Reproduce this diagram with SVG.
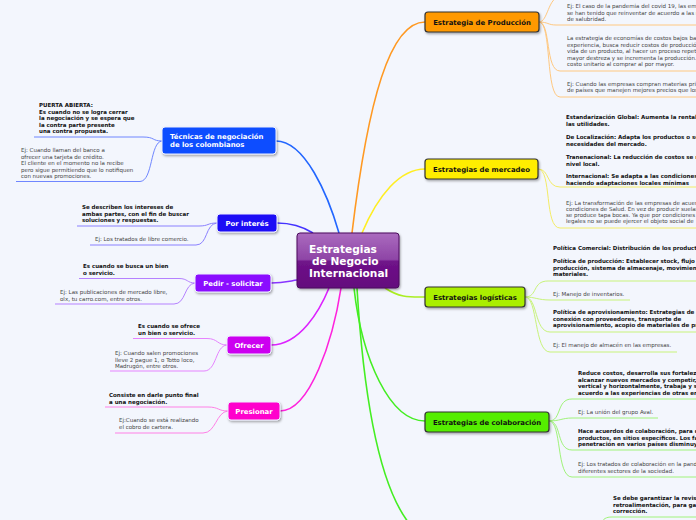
<svg xmlns="http://www.w3.org/2000/svg" width="696" height="520" viewBox="0 0 696 520">
<defs>
<linearGradient id="gc" x1="0" y1="0" x2="0" y2="1">
<stop offset="0" stop-color="#ab6bbf"/>
<stop offset="0.48" stop-color="#8e45a6"/>
<stop offset="0.52" stop-color="#6f1389"/>
<stop offset="1" stop-color="#64077d"/>
</linearGradient>
<filter id="sh" x="-10%" y="-20%" width="130%" height="150%">
<feDropShadow dx="1" dy="1.5" stdDeviation="0.8" flood-color="#000" flood-opacity="0.35"/>
</filter>
</defs>
<style>
.t{font-family:"DejaVu Sans",Verdana,sans-serif;font-size:5.5px;fill:#444}
.b{font-family:"DejaVu Sans",Verdana,sans-serif;font-size:5.5px;font-weight:bold;fill:#111}
.nl{font-family:"DejaVu Sans",Verdana,sans-serif;font-size:6.9px;font-weight:bold;fill:#fff}
.nr{font-family:"DejaVu Sans",Verdana,sans-serif;font-size:6.9px;font-weight:bold;fill:#111}
.nc{font-family:"DejaVu Sans",Verdana,sans-serif;font-size:10.6px;font-weight:bold;fill:#fff}
.L{stroke:#eef0ff;stroke-width:1;filter:url(#sh)}
.R{stroke:#333;stroke-width:1.2;filter:url(#sh)}
#conn path{fill:none}
.cm{stroke-width:1.6}
.cs{stroke-width:1}
</style>
<rect width="696" height="520" fill="#f3f6fd"/>
<g id="conn">
<path class="cm" stroke="#2266ff" d="M276,141 C305,141 328,195 339,233"/>
<path class="cm" stroke="#4433ff" d="M277,223 C295,223 305,228 313,233"/>
<path class="cm" stroke="#8833ff" d="M271,283 C283,283 290,281 297,280"/>
<path class="cm" stroke="#dd22ff" d="M271,345 C300,345 320,310 329,288"/>
<path class="cm" stroke="#ff22dd" d="M280,411 C310,411 333,340 341,288"/>
<path class="cm" stroke="#ff9922" stroke-width="2.2" d="M352,233 C368,100 390,22 425,22"/>
<path class="cm" stroke="#ffee22" d="M362,233 C378,195 400,169 425,169"/>
<path class="cm" stroke="#aaee22" d="M385,288 C400,298 410,297 425,297"/>
<path class="cm" stroke="#44ee22" d="M354,288 C362,360 390,421 425,421"/>
<path class="cm" stroke="#44ee22" d="M357,288 C365,420 385,500 415,530"/>
<!-- left children -->
<path class="cs" stroke="#6f86ff" d="M162,141 C152,141 155,137 143,137 H34"/>
<path class="cs" stroke="#6f86ff" d="M162,141 C150,142 153,181 140,181.5 H16"/>
<path class="cs" stroke="#8a80ff" d="M217,223 C207,223 209,226 199,226 H77"/>
<path class="cs" stroke="#8a80ff" d="M217,223 C205,224 208,245 196,245 H90"/>
<path class="cs" stroke="#b581ff" d="M195,283 C187,283 188,278.5 179,278.5 H79"/>
<path class="cs" stroke="#b581ff" d="M195,283 C184,284 186,304 174,304 H55"/>
<path class="cs" stroke="#e683ff" d="M227,345 C217,345 218,338.5 207,338.5 H133"/>
<path class="cs" stroke="#e683ff" d="M227,345 C215,346 217,371 204,371 H110"/>
<path class="cs" stroke="#ff80e6" d="M228,411 C218,411 219,407 208,407 H105"/>
<path class="cs" stroke="#ff80e6" d="M228,411 C216,412 216,433 203,433 H115"/>
<!-- right children -->
<path class="cs" stroke="#ffc880" d="M539,22 C548,22 548,-3 560,-3 H696"/>
<path class="cs" stroke="#ffc880" d="M539,22 C548,22 548,25 556,25 H696"/>
<path class="cs" stroke="#ffc880" d="M539,22 C551,22 545,71 560,71 H696"/>
<path class="cs" stroke="#ffc880" d="M539,22 C552,22 545,97 560,97 H696"/>
<path class="cs" stroke="#f3ec66" d="M538,169 C550,169 546,187 560,187 H696"/>
<path class="cs" stroke="#f3ec66" d="M538,169 C552,169 544,228 560,228 H696"/>
<path class="cs" stroke="#c8f37a" d="M525,297 C538,297 532,281 548,281 H696"/>
<path class="cs" stroke="#c8f37a" d="M525,297 C535,297 538,300 550,300 H630"/>
<path class="cs" stroke="#c8f37a" d="M525,297 C538,297 534,332 550,332 H696"/>
<path class="cs" stroke="#c8f37a" d="M525,297 C538,297 534,352 550,352 H677"/>
<path class="cs" stroke="#a0f37a" d="M549,421 C562,421 556,399 572,399 H696"/>
<path class="cs" stroke="#a0f37a" d="M549,421 C560,421 562,418 572,418 H658"/>
<path class="cs" stroke="#a0f37a" d="M549,421 C562,421 556,450 572,450 H696"/>
<path class="cs" stroke="#a0f37a" d="M549,421 C562,421 556,477 572,477 H696"/>
<path class="cs" stroke="#a0f37a" d="M600,540 C600,525 600,517 612,517 H696"/>
</g>
<g id="central">
<rect x="297" y="233" width="102" height="55" rx="3" fill="url(#gc)" stroke="#4a0a5c" stroke-width="1" filter="url(#sh)"/>
<text class="nc" x="309" y="253">Estrategias</text>
<text class="nc" x="312" y="265">de Negocio</text>
<text class="nc" x="309" y="277">Internacional</text>
</g>
<g id="tecnicas">
<rect class="L" x="162" y="127" width="114" height="27" rx="3" fill="#0b4dff"/>
<text class="nl" x="170" y="139">Técnicas de negociación</text>
<text class="nl" x="170" y="147">de los colombianos</text>
<text class="b" x="39" y="107">PUERTA ABIERTA:</text>
<text class="b" x="39" y="113.5">Es cuando no se logra cerrar</text>
<text class="b" x="39" y="120">la negociación y se espera que</text>
<text class="b" x="39" y="126.5">la contra parte presente</text>
<text class="b" x="39" y="133">una contra propuesta.</text>
<text class="t" x="21" y="152">Ej: Cuando llaman del banco a</text>
<text class="t" x="21" y="158.5">ofrecer una tarjeta de crédito.</text>
<text class="t" x="21" y="165">El cliente en el momento no la recibe</text>
<text class="t" x="21" y="171.5">pero sigue permitiendo que lo notifiquen</text>
<text class="t" x="21" y="178">con nuevas promociones.</text>
</g>
<g id="interes">
<rect class="L" x="217" y="214" width="60" height="18" rx="3" fill="#1f08f5"/>
<text class="nl" x="247" y="225.5" text-anchor="middle">Por interés</text>
<text class="b" x="82" y="209">Se describen los intereses de</text>
<text class="b" x="82" y="215.5">ambas partes, con el fin de buscar</text>
<text class="b" x="82" y="222">soluciones y respuestas.</text>
<text class="t" x="95" y="241">Ej: Los tratados de libre comercio.</text>
</g>
<g id="pedir">
<rect class="L" x="195" y="274" width="76" height="18" rx="3" fill="#8a0cff"/>
<text class="nl" x="233" y="285.5" text-anchor="middle">Pedir - solicitar</text>
<text class="b" x="83" y="268">Es cuando se busca un bien</text>
<text class="b" x="83" y="274.5">o servicio.</text>
<text class="t" x="60" y="294">Ej: Las publicaciones de mercado libre,</text>
<text class="t" x="60" y="300.5">olx, tu carro.com, entre otros.</text>
</g>
<g id="ofrecer">
<rect class="L" x="227" y="336" width="44" height="18" rx="3" fill="#cc00f0"/>
<text class="nl" x="249" y="347.5" text-anchor="middle">Ofrecer</text>
<text class="b" x="138" y="328">Es cuando se ofrece</text>
<text class="b" x="138" y="334.5">un bien o servicio.</text>
<text class="t" x="115" y="355">Ej: Cuando salen promociones</text>
<text class="t" x="115" y="361.5">lleve 2 pague 1, o Totto loco,</text>
<text class="t" x="115" y="368">Madrugón, entre otros.</text>
</g>
<g id="presionar">
<rect class="L" x="228" y="402" width="52" height="18" rx="3" fill="#ff00cc"/>
<text class="nl" x="254" y="413.5" text-anchor="middle">Presionar</text>
<text class="b" x="109" y="397">Consiste en darle punto final</text>
<text class="b" x="109" y="403.5">a una negociación.</text>
<text class="t" x="119" y="422">Ej:Cuando se está realizando</text>
<text class="t" x="119" y="428.5">el cobro de cartera.</text>
</g>
<g id="produccion">
<rect class="R" x="425" y="12" width="114" height="20" rx="3" fill="#ff9900"/>
<text class="nr" x="482" y="24.5" text-anchor="middle">Estrategia de Producción</text>
<text class="t" x="567" y="8">Ej: El caso de la pandemia del covid 19, las empresas</text>
<text class="t" x="567" y="14.5">se han tenido que reinventar de acuerdo a las normas</text>
<text class="t" x="567" y="21">de salubridad.</text>
<text class="t" x="567" y="40">La estrategia de economías de costos bajos basada en la</text>
<text class="t" x="567" y="46.5">experiencia, busca reducir costos de producción en la</text>
<text class="t" x="567" y="53">vida de un producto, al hacer un proceso repetitivo se</text>
<text class="t" x="567" y="59.5">mayor destreza y se incrementa la producción. Reduce el</text>
<text class="t" x="567" y="66">costo unitario al comprar al por mayor.</text>
<text class="t" x="567" y="85.5">Ej: Cuando las empresas compran materias primas</text>
<text class="t" x="567" y="92">de países que manejen mejores precios que los</text>
</g>
<g id="mercadeo">
<rect class="R" x="425" y="159" width="113" height="20" rx="3" fill="#ffee00"/>
<text class="nr" x="481.5" y="171.5" text-anchor="middle">Estrategias de mercadeo</text>
<text class="b" x="566" y="119">Estandarización Global: Aumenta la rentabilidad</text>
<text class="b" x="566" y="125.5">las utilidades.</text>
<text class="b" x="566" y="139">De Localización: Adapta los productos o servicios</text>
<text class="b" x="566" y="145.5">necesidades del mercado.</text>
<text class="b" x="566" y="159">Tranenacional: La reducción de costos se maneja</text>
<text class="b" x="566" y="165.5">nivel local.</text>
<text class="b" x="566" y="178">Internacional: Se adapta a las condiciones</text>
<text class="b" x="566" y="184.5">haciendo adaptaciones locales mínimas</text>
<text class="t" x="566" y="204.5">Ej: La transformación de las empresas de acuerdo</text>
<text class="t" x="566" y="210.5">condiciones de Salud.  En vez de producir suelas</text>
<text class="t" x="566" y="216.5">se produce tapa bocas. Ya que por condiciones</text>
<text class="t" x="566" y="222.5">legales no se puede ejercer el objeto social de</text>
</g>
<g id="logisticas">
<rect class="R" x="425" y="287" width="100" height="20" rx="3" fill="#aaee00"/>
<text class="nr" x="475" y="299.5" text-anchor="middle">Estrategias logísticas</text>
<text class="b" x="553" y="250">Política Comercial: Distribución de los productos</text>
<text class="b" x="553" y="263">Política de producción: Establecer stock, flujo de</text>
<text class="b" x="553" y="269.5">producción, sistema de almacenaje, movimiento de</text>
<text class="b" x="553" y="276">materiales.</text>
<text class="t" x="553" y="296">Ej: Manejo de inventarios.</text>
<text class="b" x="553" y="314">Política de aprovisionamiento: Estrategias de compra</text>
<text class="b" x="553" y="320.5">conexión con proveedores, transporte de</text>
<text class="b" x="553" y="327">aprovisionamiento, acopio de materiales de producción</text>
<text class="t" x="553" y="347">Ej: El manejo de almacén en las empresas.</text>
</g>
<g id="colaboracion">
<rect class="R" x="425" y="412" width="124" height="20" rx="3" fill="#55ee00"/>
<text class="nr" x="487" y="424.5" text-anchor="middle">Estrategias de colaboración</text>
<text class="b" x="578" y="375">Reduce costos, desarrolla sus fortalezas</text>
<text class="b" x="578" y="381.5">alcanzar nuevos mercados y competir,</text>
<text class="b" x="578" y="388">vertical y horizontalmente, trabaja y se</text>
<text class="b" x="578" y="394.5">acuerdo a las experiencias de otras empresas</text>
<text class="t" x="578" y="414">Ej: La unión del grupo Aval.</text>
<text class="b" x="578" y="433">Hace acuerdos de colaboración, para de</text>
<text class="b" x="578" y="439.5">productos, en sitios específicos. Los fa</text>
<text class="b" x="578" y="446">penetración en varios países disminuy</text>
<text class="t" x="578" y="466">Ej: Los tratados de colaboración en la pandemia</text>
<text class="t" x="578" y="472.5">diferentes sectores de la sociedad.</text>
</g>
<g id="revision">
<text class="b" x="613" y="500">Se debe garantizar la revisión</text>
<text class="b" x="613" y="506.5">retroalimentación, para garantizar</text>
<text class="b" x="613" y="513">corrección.</text>
</g>
</svg>
